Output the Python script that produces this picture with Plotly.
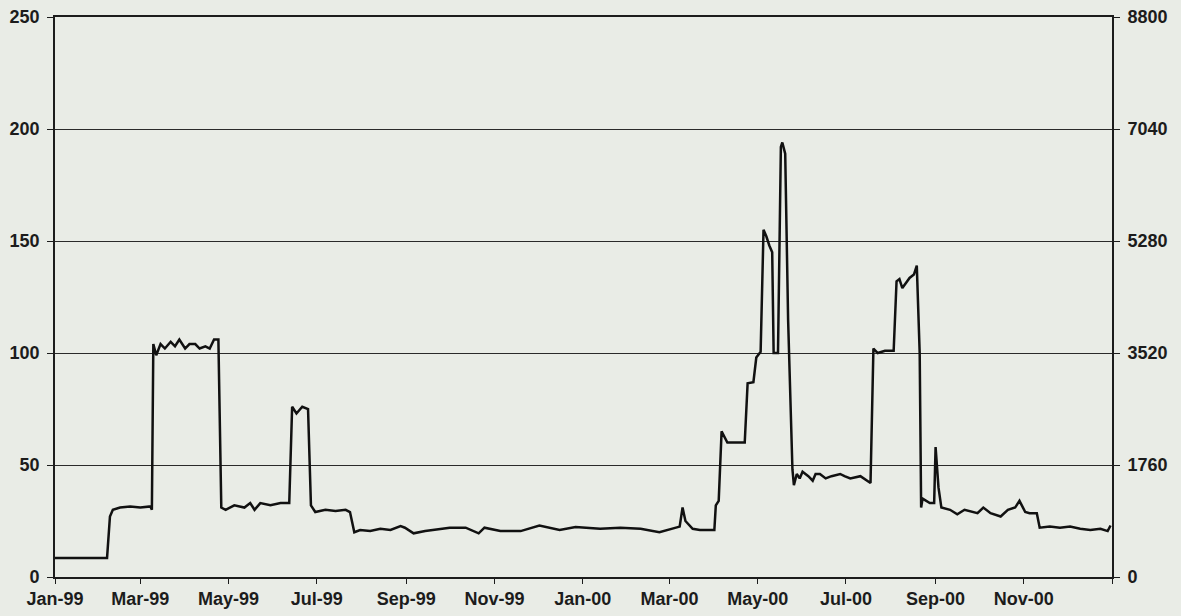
import plotly.graph_objects as go

dates = [
    "1999-01-01", "1999-02-06", "1999-02-08", "1999-02-10", "1999-02-15", "1999-02-22",
    "1999-03-01", "1999-03-08", "1999-03-09", "1999-03-10", "1999-03-12", "1999-03-15",
    "1999-03-18", "1999-03-22", "1999-03-25", "1999-03-28", "1999-04-01", "1999-04-04",
    "1999-04-08", "1999-04-11", "1999-04-15", "1999-04-18", "1999-04-21", "1999-04-24",
    "1999-04-26", "1999-04-29", "1999-05-05", "1999-05-12", "1999-05-16", "1999-05-19",
    "1999-05-23", "1999-05-30", "1999-06-06", "1999-06-12", "1999-06-14", "1999-06-17",
    "1999-06-21", "1999-06-25", "1999-06-27", "1999-06-30", "1999-07-07", "1999-07-14",
    "1999-07-21", "1999-07-24", "1999-07-27", "1999-07-31", "1999-08-07", "1999-08-14",
    "1999-08-21", "1999-08-28", "1999-08-31", "1999-09-06", "1999-09-14", "1999-09-24",
    "1999-10-01", "1999-10-12", "1999-10-21", "1999-10-25", "1999-11-05", "1999-11-19",
    "1999-12-02", "1999-12-16", "1999-12-27", "2000-01-13", "2000-01-27", "2000-02-10",
    "2000-02-23", "2000-03-08", "2000-03-10", "2000-03-12", "2000-03-17", "2000-03-22",
    "2000-04-01", "2000-04-02", "2000-04-04", "2000-04-06", "2000-04-10", "2000-04-15",
    "2000-04-22", "2000-04-24", "2000-04-28", "2000-04-30", "2000-05-03", "2000-05-05",
    "2000-05-07", "2000-05-09", "2000-05-11", "2000-05-12", "2000-05-15", "2000-05-17",
    "2000-05-18", "2000-05-20", "2000-05-22", "2000-05-25", "2000-05-26", "2000-05-28",
    "2000-05-30", "2000-06-01", "2000-06-05", "2000-06-08", "2000-06-10", "2000-06-13",
    "2000-06-17", "2000-06-21", "2000-06-27", "2000-06-30", "2000-07-04", "2000-07-11",
    "2000-07-16", "2000-07-18", "2000-07-20", "2000-07-23", "2000-07-28", "2000-08-03",
    "2000-08-05", "2000-08-07", "2000-08-09", "2000-08-14", "2000-08-17", "2000-08-19",
    "2000-08-21", "2000-08-22", "2000-08-23", "2000-08-28", "2000-08-31", "2000-09-01",
    "2000-09-03", "2000-09-05", "2000-09-11", "2000-09-16", "2000-09-21", "2000-09-30",
    "2000-10-04", "2000-10-09", "2000-10-16", "2000-10-21", "2000-10-26", "2000-10-29",
    "2000-11-02", "2000-11-05", "2000-11-10", "2000-11-12", "2000-11-19", "2000-11-26",
    "2000-12-03", "2000-12-10", "2000-12-17", "2000-12-24", "2000-12-29", "2000-12-31",
]

values = [
    8.5, 8.5, 27, 30, 31, 31.5,
    31, 31.5, 30, 104, 99, 104,
    102, 105, 103, 106, 102, 104,
    104, 102, 103, 102, 106, 106,
    31, 30, 32, 31, 33, 30,
    33, 32, 33, 33, 76, 73,
    76, 75, 32, 29, 30, 29.5,
    30, 29, 20, 21, 20.5, 21.5,
    21, 22.7, 22, 19.5, 20.5, 21.5,
    22, 22, 19.5, 22, 20.5, 20.5,
    23, 21, 22.3, 21.5, 22, 21.5,
    20, 22.5, 31, 25, 21.5, 21,
    21, 32, 34, 65, 60, 60,
    60, 86.5, 87, 98, 100.5, 155,
    152, 148, 145, 100, 100, 192,
    194, 189, 115, 48, 41, 46,
    44, 47, 45, 43, 46, 46,
    44, 45, 46, 45, 44, 45,
    43, 42, 102, 100, 101, 101,
    132, 133, 129, 133.5, 135, 139,
    100, 31, 35, 33, 33, 58,
    40, 31, 30, 28, 30, 28.5,
    31, 28.5, 27, 30, 31, 34,
    29, 28.5, 28.5, 22, 22.5, 22,
    22.5, 21.5, 21, 21.5, 20.5, 23,
]

x_tickvals = ["1999-01-01", "1999-03-01", "1999-05-01", "1999-07-01", "1999-09-01",
              "1999-11-01", "2000-01-01", "2000-03-01", "2000-05-01", "2000-07-01",
              "2000-09-01", "2000-11-01", "2001-01-01"]
x_ticktext = ["Jan-99", "Mar-99", "May-99", "Jul-99", "Sep-99", "Nov-99", "Jan-00",
              "Mar-00", "May-00", "Jul-00", "Sep-00", "Nov-00", ""]
left_ticks = [0, 50, 100, 150, 200, 250]
right_ticks = [0, 1760, 3520, 5280, 7040, 8800]

BG = "#e9ece6"
INK = "#1c1c1c"
font = dict(family="Liberation Sans, Arial, sans-serif", size=18, color=INK, weight="bold")

fig = go.Figure()
fig.add_trace(go.Scatter(x=dates, y=values, mode="lines",
                         line=dict(color="#111111", width=2.5), showlegend=False,
                         hoverinfo="x+y"))
fig.add_trace(go.Scatter(x=[dates[0]], y=[None], yaxis="y2", mode="lines",
                         showlegend=False, hoverinfo="skip"))

fig.update_layout(
    width=1181, height=616,
    margin=dict(l=55, r=69, t=17, b=39, autoexpand=False),
    paper_bgcolor=BG, plot_bgcolor=BG,
    font=font,
    xaxis=dict(type="date", range=["1999-01-01", "2001-01-01"],
               tickmode="array", tickvals=x_tickvals, ticktext=x_ticktext,
               showgrid=False, showline=True, linecolor=INK, linewidth=1.5, mirror=True,
               ticks="outside", ticklen=5, tickcolor=INK, tickwidth=1.2,
               tickfont=font, zeroline=False, automargin=False),
    yaxis=dict(range=[0, 250], tickmode="array", tickvals=left_ticks,
               showgrid=True, gridcolor="#2a2a2a", gridwidth=1.4,
               showline=True, linecolor=INK, linewidth=1.8,
               ticks="outside", ticklen=6, tickcolor=INK, tickwidth=1.2,
               tickfont=font, zeroline=False, ticklabelstandoff=4, automargin=False),
    yaxis2=dict(range=[0, 8800], tickmode="array", tickvals=right_ticks,
                overlaying="y", side="right", showgrid=False,
                showline=True, linecolor=INK, linewidth=1.8,
                ticks="outside", ticklen=6, tickcolor=INK, tickwidth=1.2,
                tickfont=font, zeroline=False, ticklabelstandoff=4, automargin=False),
)

fig.write_html(
    "out.html",
    config={"displayModeBar": False},
    post_script="document.body.style.margin='0';document.body.style.background='" + BG + "';",
)
